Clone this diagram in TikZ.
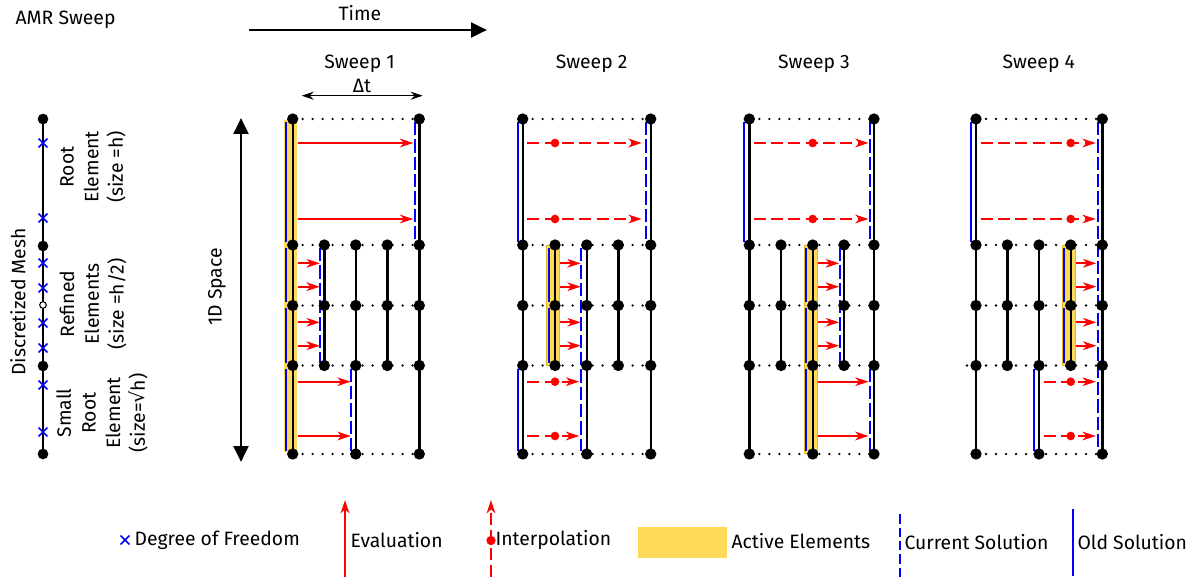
\documentclass[tikz,border=0pt]{standalone}
\usepackage{fontspec}
\setmainfont{Fira Sans}
\newfontfamily\symf{DejaVu Sans}
\usetikzlibrary{arrows.meta,calc,shapes.misc}
\definecolor{actyellow}{RGB}{255,217,90}
\definecolor{actedge}{RGB}{225,180,40}
\newcommand\evA[5]{\draw[evarrow] ($(l#1-#2-#4)+(5,0)$) -- ($(l#1-#3-#4)+(-#5,0)$);}
\newcommand\ipA[6]{\draw[iparrow] ($(l#1-#2-#5)+(4.5,0)$) -- ($(l#1-#4-#5)+(-#6,0)$); \node[idot] (d#1-#5) at (l#1-#3-#5) {};}
\newcommand\oldA[4]{\draw[oldsol] ($(p#1-#2-#3)+(-#4,3)$) -- ($(p#1-#2-\the\numexpr#3+1\relax)+(-#4,-3)$);}
\begin{document}
\begin{tikzpicture}[x=0.75pt,y=-0.75pt,
  font=\fontsize{14.5}{17}\selectfont,
  txt/.style={inner sep=1pt},
  dotline/.style={line width=1.9pt, dash pattern=on 0pt off 7.5pt, line cap=round},
  vline/.style={line width=1.8pt},
  gdot/.style={circle, fill=black, inner sep=0pt, minimum size=8.5pt},
  active/.style={fill=actyellow, draw=actedge, line width=0.5pt},
  oldsol/.style={blue, line width=1.5pt},
  cursol/.style={blue, line width=1.5pt, dash pattern=on 10pt off 3pt},
  evarrow/.style={red, line width=1.4pt, -{Stealth[length=10pt,width=6.5pt,inset=3pt]}},
  iparrow/.style={evarrow, dash pattern=on 9pt off 4pt},
  idot/.style={circle, fill=red, inner sep=0pt, minimum size=6.5pt},
  dof/.style={cross out, draw=blue, line width=1.1pt, inner sep=0pt, minimum size=5.5pt},
  bigarrow/.style={line width=2.2pt},
  rlab/.style={rotate=90, align=center, inner sep=0pt, font=\fontsize{14.5}{18.5}\selectfont}
]
\useasboundingbox (0,0) rectangle (1202,584);

% ---------- header ----------
\node[txt, anchor=west] (title) at (14,20) {AMR Sweep};
\node[txt] (time) at (360,13) {Time};
\coordinate (tL) at (249,30);
\coordinate (tR) at (487,30);
\draw[bigarrow, -{Triangle[length=12pt,width=11pt]}] (tL) -- (tR);

% ---------- left mesh ----------
\coordinate (m0) at (43,119);
\coordinate (m1) at (43,246);
\coordinate (m2) at (43,366);
\coordinate (m3) at (43,454);
\draw[line width=1.1pt] (m0) -- (m3);
\foreach \i in {0,...,3} {\node[gdot, minimum size=8pt] (md\i) at (m\i) {};}
\foreach \i/\y in {1/143,2/218,3/263,4/288,5/323,6/348,7/385,8/432}
  {\node[dof] (x\i) at (43,\y) {};}
\node[circle, draw, fill=white, inner sep=0pt, minimum size=5pt, line width=0.8pt] (mh) at (43,305) {};
\node[rlab] (dmesh) at (18,302) {Discretized Mesh};
\node[rlab] (lroot) at (93,167) {Root\\Element\\(size =h)};
\node[rlab] (lref) at (93,304) {Refined\\Elements\\(size =h/2)};
\node[rlab] (lsmall) at (102,413) {Small\\Root\\Element\\(size={\symf √}h)};

% ---------- 1D space ----------
\coordinate (sT) at (241,118);
\coordinate (sB) at (241,462);
\draw[bigarrow, {Triangle[length=12pt,width=11pt]}-{Triangle[length=12pt,width=11pt]}] (sT) -- (sB);
\node[rlab] (space) at (217,287) {1D Space};

% ---------- sweep labels ----------
\node[txt] (sw1) at (359.5,64) {Sweep 1};
\node[txt] (sw2) at (591.6,64) {Sweep 2};
\node[txt] (sw3) at (814,64) {Sweep 3};
\node[txt] (sw4) at (1038.7,64) {Sweep 4};
\node[txt] (dt) at (362,86) {Δt};
\coordinate (dtL) at (301.7,95.7);
\coordinate (dtR) at (422.7,95.7);
\draw[line width=0.8pt, {Stealth[length=9pt,width=6pt,inset=3pt]}-{Stealth[length=9pt,width=6pt,inset=3pt]}] (dtL) -- (dtR);

% ---------- grid coordinates ----------
\foreach \s/\xa/\xb/\xc/\xd/\xe in {1/292.7/324.3/355.7/387.3/419.3,
                                    2/522.7/555/586.7/618.3/650.7,
                                    3/749.3/781/812.7/844/874,
                                    4/976/1007.3/1039/1070.7/1102.3}{
  \foreach \c/\x in {1/\xa,2/\xb,3/\xc,4/\xd,5/\xe}{
    \foreach \r/\y in {0/119,1/245,2/305.5,3/365.5,4/454}
      {\coordinate (p\s-\c-\r) at (\x,\y);}
    \foreach \L/\y in {1/143,2/219,3/263.3,4/286.7,5/322.3,6/345.7,7/381.7,8/436}
      {\coordinate (l\s-\c-\L) at (\x,\y);}
  }
}

% dotted element borders
\foreach \s in {1,...,4}{
  \foreach \r in {0,...,4}{
    \draw[dotline] (p\s-1-\r) -- (p\s-5-\r);
  }
}
\draw[dotline] ($(p4-1-3)+(-9,0)$) -- (p4-1-3);

% active elements (yellow)
\fill[actyellow] ($(p1-1-0)+(-8.5,1)$) rectangle ($(p1-1-4)+(4.5,-2)$);
\path[active] ($(p2-2-1)+(-8.5,0)$) rectangle ($(p2-2-3)+(4.5,0)$);
\path[active] ($(p3-3-1)+(-8,0)$) rectangle ($(p3-3-4)+(4.5,-1)$);
\path[active] ($(p4-4-1)+(-8.5,0)$) rectangle ($(p4-4-3)+(5,0)$);

% black verticals
\foreach \s in {1,...,4}{
  \draw[vline] (p\s-1-0) -- (p\s-1-4);
  \draw[vline] (p\s-5-0) -- (p\s-5-4);
  \draw[vline] (p\s-2-1) -- (p\s-2-3);
  \draw[vline] (p\s-3-1) -- (p\s-3-4);
  \draw[vline] (p\s-4-1) -- (p\s-4-3);
}

% ---------- sweep 1 ----------
\oldA{1}{1}{0}{6.5}
\oldA{1}{1}{1}{6.5}
\oldA{1}{1}{2}{6.5}
\oldA{1}{1}{3}{6.5}
\draw[cursol] ($(p1-5-0)+(-4.5,3)$) -- ($(p1-5-1)+(-4.5,-3)$);
\draw[cursol] ($(p1-2-1)+(-4.5,3)$) -- ($(p1-2-3)+(-4.5,-3)$);
\draw[cursol] ($(p1-3-3)+(-4.5,3)$) -- ($(p1-3-4)+(-4.5,-3)$);
\evA{1}{1}{5}{1}{6}
\evA{1}{1}{5}{2}{6}
\evA{1}{1}{2}{3}{4.5}
\evA{1}{1}{2}{4}{4.5}
\evA{1}{1}{2}{5}{4.5}
\evA{1}{1}{2}{6}{4.5}
\evA{1}{1}{3}{7}{5}
\evA{1}{1}{3}{8}{5}

% ---------- sweep 2 ----------
\oldA{2}{1}{0}{5}
\oldA{2}{1}{3}{5}
\oldA{2}{2}{1}{6.5}
\oldA{2}{2}{2}{6.5}
\draw[cursol] ($(p2-5-0)+(-5,3)$) -- ($(p2-5-1)+(-5,-3)$);
\draw[cursol] ($(p2-3-1)+(-5.5,3)$) -- ($(p2-3-4)+(-5.5,-3)$);
\ipA{2}{1}{2}{5}{1}{9}
\ipA{2}{1}{2}{5}{2}{9}
\evA{2}{2}{3}{3}{6}
\evA{2}{2}{3}{4}{6}
\evA{2}{2}{3}{5}{6}
\evA{2}{2}{3}{6}{6}
\ipA{2}{1}{2}{3}{7}{7.5}
\ipA{2}{1}{2}{3}{8}{7.5}

% ---------- sweep 3 ----------
\oldA{3}{1}{0}{5}
\oldA{3}{3}{1}{6.5}
\oldA{3}{3}{2}{6.5}
\oldA{3}{3}{3}{6.5}
\draw[cursol] ($(p3-5-0)+(-4.5,3)$) -- ($(p3-5-1)+(-4.5,-3)$);
\draw[cursol] ($(p3-5-3)+(-4.5,3)$) -- ($(p3-5-4)+(-4.5,-3)$);
\draw[cursol] ($(p3-4-1)+(-4.5,3)$) -- ($(p3-4-3)+(-4.5,-3)$);
\ipA{3}{1}{3}{5}{1}{5.5}
\ipA{3}{1}{3}{5}{2}{5.5}
\evA{3}{3}{4}{3}{5}
\evA{3}{3}{4}{4}{5}
\evA{3}{3}{4}{5}{5}
\evA{3}{3}{4}{6}{5}
\evA{3}{3}{5}{7}{5.5}
\evA{3}{3}{5}{8}{5.5}

% ---------- sweep 4 ----------
\oldA{4}{1}{0}{5}
\oldA{4}{3}{3}{5.5}
\oldA{4}{4}{1}{6.5}
\oldA{4}{4}{2}{6.5}
\draw[cursol] ($(p4-5-0)+(-4.5,3)$) -- ($(p4-5-4)+(-4.5,-3)$);
\ipA{4}{1}{4}{5}{1}{6.5}
\ipA{4}{1}{4}{5}{2}{6.5}
\evA{4}{4}{5}{3}{6}
\evA{4}{4}{5}{4}{6}
\evA{4}{4}{5}{5}{6}
\evA{4}{4}{5}{6}{6}
\ipA{4}{3}{4}{5}{7}{6.5}
\ipA{4}{3}{4}{5}{8}{6.5}

% grid dots
\foreach \s in {1,...,4}{
  \foreach \c/\r in {1/0,5/0,1/4,3/4,5/4}
    {\node[gdot] (g\s-\c-\r) at (p\s-\c-\r) {};}
  \foreach \c in {1,...,5}{
    \foreach \r in {1,2,3}
      {\node[gdot] (g\s-\c-\r) at (p\s-\c-\r) {};}
  }
}

% ---------- legend ----------
\node[dof] (lgx) at (125,540) {};
\node[txt, anchor=west] (lgxt) at (133,540) {Degree of Freedom};
\coordinate (lgeB) at (345,577);
\coordinate (lgeT) at (345,500);
\draw[evarrow] (lgeB) -- (lgeT);
\node[txt, anchor=west] (lget) at (349,540) {Evaluation};
\coordinate (lgiB) at (491,577);
\coordinate (lgiT) at (491,500);
\draw[iparrow] (lgiB) -- (lgiT);
\node[idot, minimum size=7pt] (lgid) at (491,540.5) {};
\node[txt, anchor=west] (lgit) at (494,540) {Interpolation};
\node[fill=actyellow, inner sep=0pt, minimum width=66.75pt, minimum height=23.25pt] (lga) at (682.5,542) {};
\node[txt, anchor=west] (lgat) at (730,541) {Active Elements};
\coordinate (lgcB) at (900,577);
\coordinate (lgcT) at (900,511);
\draw[cursol, dash pattern=on 7pt off 3pt] (lgcB) -- (lgcT);
\node[txt, anchor=west] (lgct) at (903,542) {Current Solution};
\coordinate (lgoB) at (1073,576);
\coordinate (lgoT) at (1073,509);
\draw[oldsol] (lgoB) -- (lgoT);
\node[txt, anchor=west] (lgot) at (1076,542) {Old Solution};
\end{tikzpicture}
\end{document}
